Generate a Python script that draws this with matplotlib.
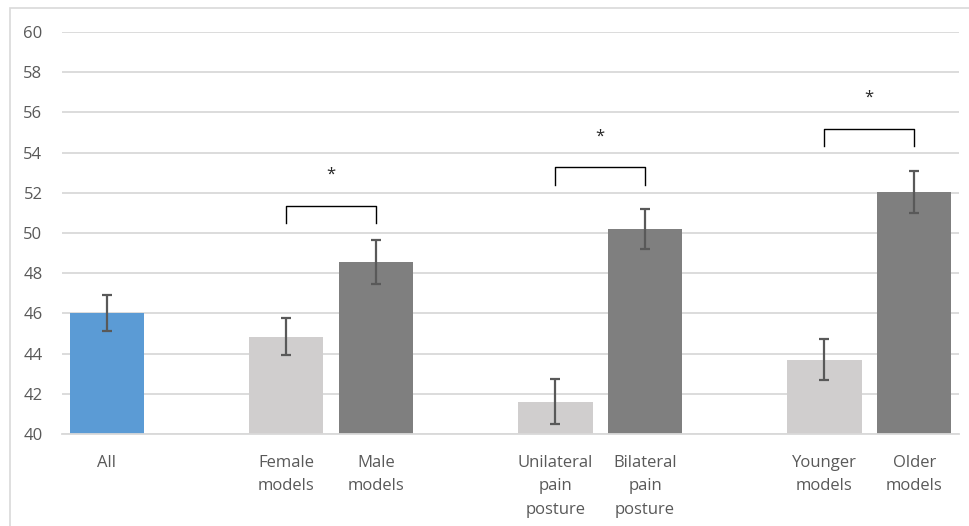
import matplotlib
matplotlib.use("Agg")
import matplotlib.pyplot as plt
from matplotlib.patches import Rectangle

# Data
categories = ["All", "Female\nmodels", "Male\nmodels", "Unilateral\npain\nposture",
              "Bilateral\npain\nposture", "Younger\nmodels", "Older\nmodels"]
slots = [0, 2, 3, 5, 6, 8, 9]
values = [46.0, 44.85, 48.55, 41.6, 50.2, 43.7, 52.05]
errors = [0.9, 0.92, 1.1, 1.12, 0.98, 1.02, 1.05]
colors = ["#5B9BD5", "#D0CECE", "#7F7F7F", "#D0CECE", "#7F7F7F", "#D0CECE", "#7F7F7F"]
# significance brackets: (left slot, right slot, bracket top, leg bottom, star y)
brackets = [(2, 3, 51.35, 50.5, 52.9), (5, 6, 53.27, 52.4, 54.8), (8, 9, 55.17, 54.33, 56.75)]
yticks = list(range(40, 61, 2))

plt.rcParams['font.family'] = ['Open Sans', 'DejaVu Sans']
fig = plt.figure(figsize=(9.69, 5.26), dpi=100)
ax = fig.add_axes([62/969, 92/526, (959-62)/969, (434-32)/526])

ax.bar(slots, [v - 40 for v in values], bottom=40, width=0.83, color=colors, zorder=2)
ax.errorbar(slots, values, yerr=errors, fmt='none', ecolor='#595959', elinewidth=1.6,
            capsize=3.6, capthick=1.6, zorder=3)

for l, r, top, leg, sy in brackets:
    ax.plot([l, l, r, r], [leg, top, top, leg], color='black', lw=1.0, zorder=3)
    ax.text((l + r) / 2, sy, "*", ha='center', va='center', fontsize=12, color='#262626')

ax.set_xlim(-0.5, 9.5)
ax.set_ylim(40, 60)
ax.set_yticks(yticks)
ax.set_yticklabels([str(t) for t in yticks])
ax.set_xticks(slots)
ax.set_xticklabels(categories, linespacing=1.62, va='top', ha='center', multialignment='center')
ax.tick_params(axis='both', length=0, labelsize=12, colors='#595959')
ax.tick_params(axis='x', pad=15)
ax.tick_params(axis='y', pad=14)
ax.yaxis.grid(True, color='#D9D9D9', lw=1.3, zorder=0)
ax.set_axisbelow(True)
for s in ['top', 'right', 'left']:
    ax.spines[s].set_visible(False)
ax.spines['bottom'].set_color('#D9D9D9')
ax.spines['bottom'].set_linewidth(1.3)

# outer chart border (light gray)
fig.patches.append(Rectangle((10/969, -0.1), 1.2, (526 - 8)/526 + 0.1, transform=fig.transFigure,
                             fill=False, edgecolor='#D9D9D9', lw=1.2))

fig.savefig("out.png", dpi=100)
